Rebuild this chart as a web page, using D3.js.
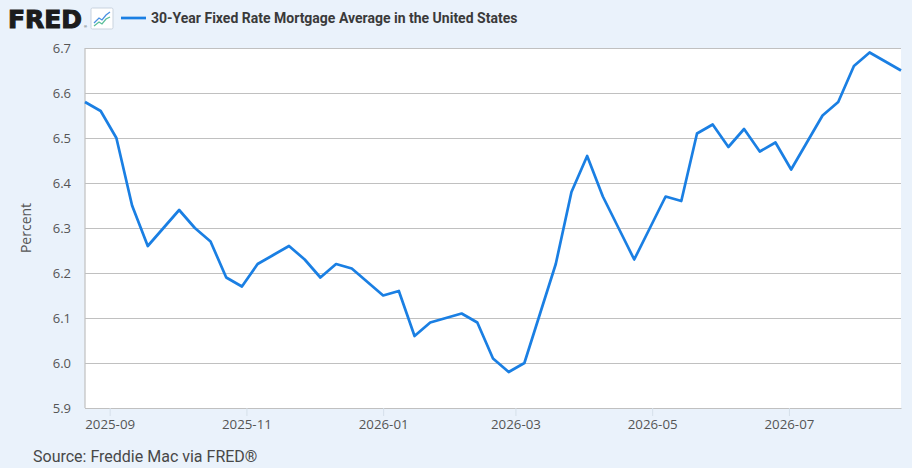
<!DOCTYPE html>
<html>
<head>
<meta charset="utf-8">
<script src="https://cdn.jsdelivr.net/npm/d3@7"></script>
<style>
  html, body { margin: 0; padding: 0; background: #eaf2fb; }
  svg { display: block; }
</style>
</head>
<body>
<svg id="chart" width="912" height="468"></svg>
<script>
const seriesTitle = "30-Year Fixed Rate Mortgage Average in the United States";
const yAxisLabel = "Percent";
const sourceText = "Source: Freddie Mac via FRED®";

const dates = [
  "2025-08-21","2025-08-28","2025-09-04","2025-09-11","2025-09-18","2025-09-25",
  "2025-10-02","2025-10-09","2025-10-16","2025-10-23","2025-10-30",
  "2025-11-06","2025-11-13","2025-11-20","2025-11-27",
  "2025-12-04","2025-12-11","2025-12-18","2025-12-25",
  "2026-01-01","2026-01-08","2026-01-15","2026-01-22","2026-01-29",
  "2026-02-05","2026-02-12","2026-02-19","2026-02-26",
  "2026-03-05","2026-03-12","2026-03-19","2026-03-26",
  "2026-04-02","2026-04-09","2026-04-16","2026-04-23","2026-04-30",
  "2026-05-07","2026-05-14","2026-05-21","2026-05-28",
  "2026-06-04","2026-06-11","2026-06-18","2026-06-25",
  "2026-07-02","2026-07-09","2026-07-16","2026-07-23","2026-07-30",
  "2026-08-06","2026-08-13","2026-08-20"
];
const rates = [
  6.58, 6.56, 6.50, 6.35, 6.26, 6.30,
  6.34, 6.30, 6.27, 6.19, 6.17,
  6.22, 6.24, 6.26, 6.23,
  6.19, 6.22, 6.21, 6.18,
  6.15, 6.16, 6.06, 6.09, 6.10,
  6.11, 6.09, 6.01, 5.98,
  6.00, 6.11, 6.22, 6.38,
  6.46, 6.37, 6.30, 6.23, 6.30,
  6.37, 6.36, 6.51, 6.53,
  6.48, 6.52, 6.47, 6.49,
  6.43, 6.49, 6.55, 6.58, 6.66,
  6.69, 6.67, 6.65
];
const yTicks = [5.9, 6.0, 6.1, 6.2, 6.3, 6.4, 6.5, 6.6, 6.7];
const xTicks = ["2025-09-01","2025-11-01","2026-01-01","2026-03-01","2026-05-01","2026-07-01"];

const parse = d3.timeParse("%Y-%m-%d");
const data = dates.map((d, i) => ({ date: parse(d), value: rates[i] }));

const W = 912, H = 468;
const m = { top: 48, right: 11, bottom: 60, left: 85 };
const svg = d3.select("#chart");

const x = d3.scaleTime()
  .domain([parse(dates[0]), parse(dates[dates.length - 1])])
  .range([m.left, W - m.right]);
const y = d3.scaleLinear()
  .domain([5.9, 6.7])
  .range([H - m.bottom, m.top]);

// plot background
svg.append("rect")
  .attr("x", m.left).attr("y", m.top)
  .attr("width", W - m.left - m.right)
  .attr("height", H - m.top - m.bottom)
  .attr("fill", "#ffffff");

// grid lines + y labels
const yAxis = d3.axisLeft(y)
  .tickValues(yTicks)
  .tickFormat(d3.format(".1f"))
  .tickSize(-(W - m.left - m.right))
  .tickPadding(14);
const gy = svg.append("g")
  .attr("transform", `translate(${m.left},0)`)
  .call(yAxis);
gy.select(".domain").remove();
gy.selectAll(".tick line")
  .attr("stroke", "#c0c0c0")
  .attr("stroke-width", 1.2);
gy.selectAll(".tick text")
  .attr("fill", "#555")
  .style("font-family", "'Open Sans', sans-serif")
  .style("font-size", "13px");

// x axis
const xAxis = d3.axisBottom(x)
  .tickValues(xTicks.map(parse))
  .tickFormat(d3.timeFormat("%Y-%m"))
  .tickSize(8)
  .tickSizeOuter(0)
  .tickPadding(4);
const gx = svg.append("g")
  .attr("transform", `translate(0,${H - m.bottom})`)
  .call(xAxis);
gx.select(".domain").attr("stroke", "#c0c0c0").attr("stroke-width", 1.2);
gx.selectAll(".tick line").attr("stroke", "#d6e0ea").attr("stroke-width", 1);
gx.selectAll(".tick text")
  .attr("fill", "#555")
  .style("font-family", "'Open Sans', sans-serif")
  .style("font-size", "13.3px");

// left axis line
svg.append("line")
  .attr("x1", m.left).attr("x2", m.left)
  .attr("y1", m.top).attr("y2", H - m.bottom)
  .attr("stroke", "#c0c0c0").attr("stroke-width", 1.2);

// the series
const line = d3.line()
  .x(d => x(d.date))
  .y(d => y(d.value));
svg.append("path")
  .datum(data)
  .attr("fill", "none")
  .attr("stroke", "#1a7fe3")
  .attr("stroke-width", 2.7)
  .attr("stroke-linejoin", "round")
  .attr("d", line);

// y axis label
svg.append("text")
  .attr("transform", `translate(31,${(m.top + H - m.bottom) / 2}) rotate(-90)`)
  .attr("text-anchor", "middle")
  .attr("fill", "#555")
  .style("font-family", "'Open Sans', sans-serif")
  .style("font-size", "14px")
  .text(yAxisLabel);

// header: FRED logo
svg.append("text")
  .attr("x", 8).attr("y", 27.5)
  .attr("fill", "#1c1c1c")
  .attr("stroke", "#1c1c1c")
  .attr("stroke-width", 1.1)
  .attr("textLength", 74)
  .attr("lengthAdjust", "spacingAndGlyphs")
  .style("font-family", "'DejaVu Sans', sans-serif")
  .style("font-weight", "700")
  .style("font-size", "25px")
  .text("FRED");
svg.append("text")
  .attr("x", 84).attr("y", 28)
  .attr("fill", "#1c1c1c")
  .style("font-family", "'Liberation Sans', Arial, sans-serif")
  .style("font-size", "4px")
  .text("®");

// small chart icon
const icon = svg.append("g").attr("transform", "translate(91,8)");
icon.append("rect")
  .attr("x", 0).attr("y", 0).attr("width", 22).attr("height", 21)
  .attr("rx", 1.5)
  .attr("fill", "#ffffff").attr("stroke", "#c9d3de");
icon.append("path")
  .attr("d", "M3,15 L8,10 L11,12 L15,7 L19,4")
  .attr("fill", "none").attr("stroke", "#4a90e2").attr("stroke-width", 1.3);
icon.append("path")
  .attr("d", "M3,18 L8,14 L11,16 L15,11 L19,9")
  .attr("fill", "none").attr("stroke", "#5bbf9a").attr("stroke-width", 1.3);

// legend
svg.append("line")
  .attr("x1", 121).attr("x2", 146)
  .attr("y1", 18).attr("y2", 18)
  .attr("stroke", "#1a7fe3").attr("stroke-width", 2.7);
svg.append("text")
  .attr("x", 151).attr("y", 23)
  .attr("fill", "#3a3a3a")
  .style("font-family", "Roboto, sans-serif")
  .style("font-weight", "700")
  .style("font-size", "14px")
  .text(seriesTitle);

// source
svg.append("text")
  .attr("x", 33).attr("y", 461.5)
  .attr("fill", "#484848")
  .style("font-family", "Roboto, sans-serif")
  .style("font-size", "16px")
  .text(sourceText);
</script>
</body>
</html>
